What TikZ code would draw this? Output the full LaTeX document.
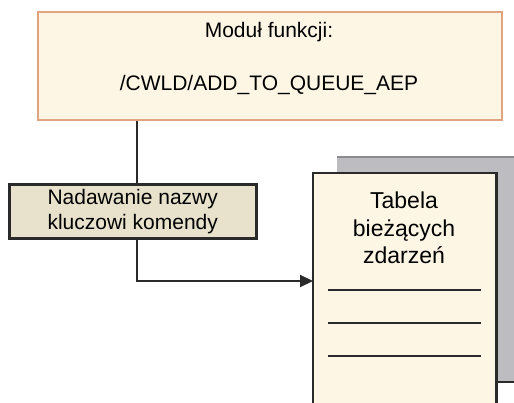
\documentclass[tikz,border=0pt]{standalone}
\usepackage{fontspec}
\setmainfont{Liberation Sans}
\usetikzlibrary{arrows.meta}
\definecolor{modfill}{HTML}{FDF6E4}
\definecolor{modedge}{HTML}{E2A47E}
\definecolor{keyfill}{HTML}{E8E2CC}
\definecolor{inkdark}{HTML}{2A2A2A}
\definecolor{sheetgray}{HTML}{BDBDC1}
\definecolor{sheetedge}{HTML}{8C8C90}
\tikzset{
  modbox/.style={draw=modedge, line width=1.5pt, fill=modfill},
  keybox/.style={draw=inkdark, line width=2.5pt, fill=keyfill,
    minimum width=247pt, minimum height=54pt, inner sep=0pt,
    align=center, font=\fontsize{21}{25}\selectfont},
  label21/.style={font=\fontsize{21}{25}\selectfont, inner sep=0pt},
  doctext/.style={align=center, inner sep=0pt,
    font=\fontsize{23}{27.5}\selectfont},
  link/.style={draw=inkdark, line width=2.2pt},
  rule/.style={draw=inkdark, line width=2.6pt},
}
\begin{document}
\begin{tikzpicture}[x=1pt, y=-1pt]
\useasboundingbox (0,0) rectangle (514,402);

% function module box
\node[modbox, minimum width=464pt, minimum height=108pt, inner sep=0pt,
      anchor=north west] (mod) at (37,11) {};
\node[label21] (modname) at (269,32) {Moduł funkcji:};
\node[label21] (modid) at (269,85) {/CWLD/ADD\_TO\_QUEUE\_AEP};

% naming step
\node[keybox, anchor=north west] (key) at (8,183)
  {Nadawanie nazwy\\kluczowi komendy};

% current-events table: grey sheet behind, then the front sheet
\fill[sheetgray] (337,157) rectangle (520,382);
\draw[sheetedge, line width=1.2pt] (337,157) -- (520,157);
\draw[inkdark, line width=1.5pt] (496,382) -- (520,382);
\node[fill=modfill, minimum width=183pt, minimum height=240pt,
      inner sep=0pt, anchor=north west] (doc) at (313,173) {};
\draw[rule] (doc.south west) -- (doc.north west) -- (doc.north east)
  -- (doc.south east);
\node[doctext] (doctitle) at (404,228) {Tabela\\bieżących\\zdarzeń};
\foreach \yy/\nm in {290/ra, 323/rb, 356/rc} {
  \coordinate (\nm l) at (328,\yy);
  \coordinate (\nm r) at (481,\yy);
  \draw[rule] (\nm l) -- (\nm r);
}

% connectors
\coordinate (jx) at (137,0);
\coordinate (turn) at (137,281);
\draw[link] (mod.south -| jx) -- (key.north -| jx);
\draw[link, -{Triangle[length=13pt, width=12pt]}]
  (key.south -| jx) -- (turn) -- (doc.west |- turn);
\end{tikzpicture}
\end{document}
